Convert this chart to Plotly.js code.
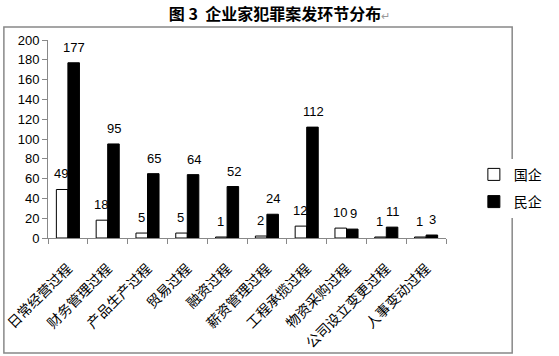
<!DOCTYPE html>
<html><head><meta charset="utf-8">
<script src="https://cdn.plot.ly/plotly-3.0.1.min.js"></script>
<style>body{margin:0;background:#fff}#c{width:559px;height:356px}</style>
</head><body><div id="c"></div>
<script>
const categories = ["日常经营过程","财务管理过程","产品生产过程","贸易过程","融资过程","薪资管理过程","工程承揽过程","物资采购过程","公司设立变更过程","人事变动过程"];
const stateOwned = [49,18,5,5,1,2,12,10,1,1];
const privateOwned = [177,95,65,64,52,24,112,9,11,3];
const yTicks = [0,20,40,60,80,100,120,140,160,180,200];

const lblFont = {family:"Liberation Sans, DejaVu Sans, sans-serif", size:13, color:"#000"};
const traces = [
  {type:"bar", name:"国企", legendgroup:"a", x:categories, y:stateOwned, marker:{color:"#fff", line:{color:"#000", width:1}}},
  {type:"bar", name:"民企", legendgroup:"b", x:categories, y:privateOwned, marker:{color:"#000", line:{color:"#000", width:1}}}
];
const annotations = [];
const series = [[stateOwned,-6.5],[privateOwned,6.5]];
series.forEach(([vals,shift])=>{
  vals.forEach((v,i)=>{
    annotations.push({xref:"x", yref:"y", x:categories[i], y:v, text:String(v), showarrow:false,
      xshift:shift, yshift:6, yanchor:"bottom", xanchor:"center", font:lblFont});
  });
});
const layout = {
  width:559, height:356,
  margin:{l:48, r:78, t:40, b:118},
  paper_bgcolor:"#fff", plot_bgcolor:"#fff",
  barmode:"group", bargap:0.42, bargroupgap:0,
  showlegend:true,
  legend:{x:1.07, y:0.4, xanchor:"left", yanchor:"top", traceorder:"grouped", font:{family:"Noto Sans CJK SC, sans-serif", size:14, color:"#000"}, itemwidth:30, tracegroupgap:6},
  title:{text:"<b>图 3  企业家犯罪案发环节分布</b><span style='font-size:11px;color:#999'>↵</span>", font:{family:"Noto Sans CJK SC, serif", size:16, color:"#000"}, x:0.5, xanchor:"center", y:0.975, yanchor:"top"},
  xaxis:{type:"category", tickangle:-45, tickson:"boundaries", ticks:"outside", ticklen:5, tickcolor:"#888",
    showline:true, linecolor:"#888", linewidth:1, showgrid:false, ticklabelstandoff:16,
    tickfont:{family:"Noto Sans CJK SC, serif", size:14, color:"#000"}},
  yaxis:{range:[0,200], tickvals:yTicks, ticks:"outside", ticklen:5, tickcolor:"#888",
    showline:true, linecolor:"#888", linewidth:1, showgrid:false, zeroline:false,
    tickfont:{family:"Liberation Sans, DejaVu Sans, sans-serif", size:13, color:"#000"}},
  annotations: annotations,
  shapes:[{type:"rect", xref:"paper", yref:"paper", x0:-48/433, x1:(553-48)/433, y0:(238-353)/198, y1:(238-27)/198, line:{color:"#888", width:1.5}}]
};
Plotly.newPlot("c", traces, layout, {displayModeBar:false});
</script></body></html>
